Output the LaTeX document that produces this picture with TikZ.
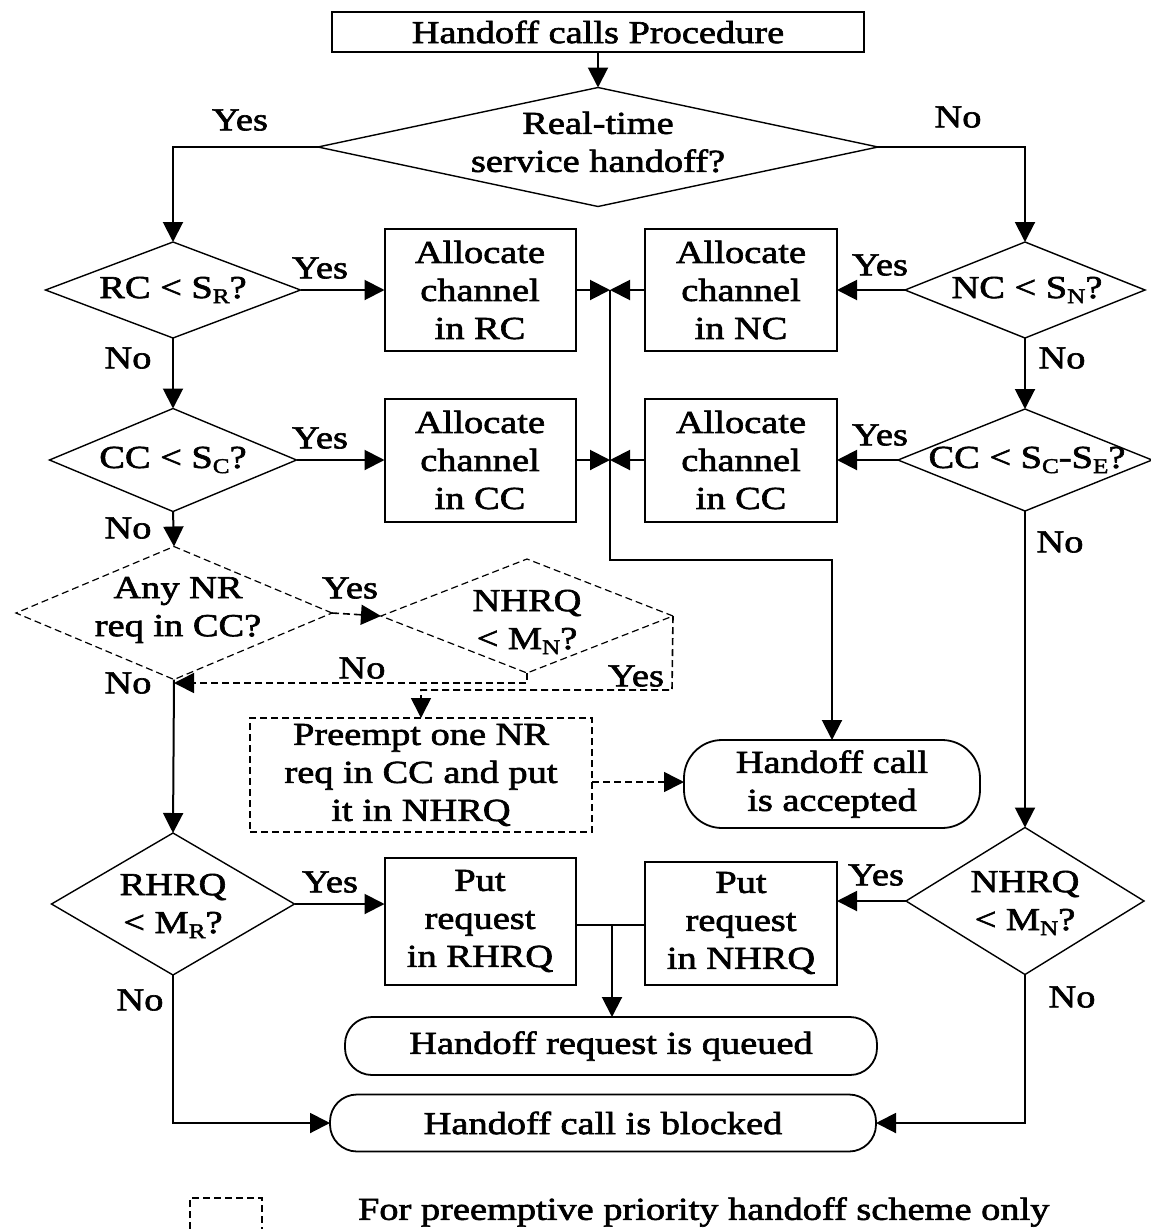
\documentclass[tikz,border=0pt]{standalone}
\usepackage{fontspec}
\setmainfont{Liberation Serif}[FakeStretch=1.2,FakeBold=2]
\usetikzlibrary{shapes.geometric,arrows.meta,calc}
\newcommand\lsub[1]{\raisebox{-0.35ex}{\fontsize{21}{21}\selectfont #1}}

\begin{document}
\begin{tikzpicture}[x=1pt,y=-1pt,
  font=\fontsize{32}{38}\selectfont,
  every node/.style={inner sep=0pt, outer sep=0pt},
  proc/.style={draw, line width=2pt, align=center},
  dec/.style={draw, diamond, line width=1.4pt},
  term/.style={draw, line width=1.8pt, rounded corners=#1},
  optdash/.style={dash pattern=on 7pt off 4pt},
  txt/.style={align=center},
  tag/.style={},
  flow/.style={line width=2pt, -{Triangle[length=20pt,width=20pt]}},
  link/.style={line width=2pt}
]
\useasboundingbox (0,0) rectangle (1151,1229);

% ---- process boxes and terminals ----
\node[proc, minimum width=532pt, minimum height=40pt] (top) at (598,32) {Handoff calls Procedure};

\node[proc, minimum width=191pt, minimum height=122pt] (bRC) at (480,290) {Allocate\\channel\\in RC};
\node[proc, minimum width=192pt, minimum height=122pt] (bNC) at (741,290) {Allocate\\channel\\in NC};
\node[proc, minimum width=191pt, minimum height=123pt] (bCC1) at (480,460) {Allocate\\channel\\in CC};
\node[proc, minimum width=192pt, minimum height=123pt] (bCC2) at (741,460) {Allocate\\channel\\in CC};

\node[proc, line width=1.6pt, optdash, minimum width=342pt, minimum height=114pt] (bP) at (421,775)
  {Preempt one NR\\req in CC and put\\it in NHRQ};
\node[term=38pt, minimum width=296pt, minimum height=88pt, align=center] (tAcc) at (832,784)
  {Handoff call\\is accepted};

\node[proc, minimum width=191pt, minimum height=127pt] (bRH) at (480,921) {Put\\request\\in RHRQ};
\node[proc, minimum width=192pt, minimum height=123pt] (bNH) at (741,923) {Put\\request\\in NHRQ};

\node[term=27pt, minimum width=532pt, minimum height=58pt] (tQ) at (611,1046) {Handoff request is queued};
\node[term=27pt, minimum width=546pt, minimum height=57pt] (tB) at (603,1123) {Handoff call is blocked};

% ---- decisions ----
\node[dec, minimum width=560pt, minimum height=119pt] (d1) at (598,147) {};
\node[txt] (d1t) at (598,142) {Real-time\\service handoff?};

\node[dec, minimum width=255pt, minimum height=96pt] (dR) at (173,290) {};
\node[txt] (dRt) at (173,290) {RC < S\lsub{R}?};

\node[dec, minimum width=240pt, minimum height=96pt] (dN) at (1025,290) {};
\node[txt] (dNt) at (1027,290) {NC < S\lsub{N}?};

\node[dec, minimum width=247pt, minimum height=103pt] (dC) at (173,460) {};
\node[txt] (dCt) at (173,460) {CC < S\lsub{C}?};

\node[dec, minimum width=254pt, minimum height=102pt] (dE) at (1025,460) {};
\node[txt] (dEt) at (1027,460) {CC < S\lsub{C}-S\lsub{E}?};

\node[dec, line width=1.2pt, optdash, minimum width=316pt, minimum height=133pt] (dA) at (174,613) {};
\node[txt] (dAt) at (178,610) {Any NR\\req in CC?};

\node[dec, line width=1.2pt, optdash, minimum width=292pt, minimum height=114pt] (dQ) at (527,616) {};
\node[txt] (dQt) at (527,622) {NHRQ\\< M\lsub{N}?};

\node[dec, minimum width=243pt, minimum height=142pt] (dRH) at (173,904) {};
\node[txt] (dRHt) at (173,906) {RHRQ\\< M\lsub{R}?};

\node[dec, minimum width=238pt, minimum height=147pt] (dNH) at (1025,901) {};
\node[txt] (dNHt) at (1025,903) {NHRQ\\< M\lsub{N}?};

% ---- junction points ----
\coordinate (m1) at (610,290);
\coordinate (m2) at (610,460);
\coordinate (j1) at (610,560);
\coordinate (m3) at (174,683);
\coordinate (j2) at (612,925);
\coordinate (j3) at (672,690);

% ---- connectors ----
\draw[flow] (top) -- (d1);
\draw[flow] (d1.west) -| (dR.north);
\draw[flow] (d1.east) -| (dN.north);
\draw[flow] (dR.east) -- (bRC.west);
\draw[flow] (dN.west) -- (bNC.east);
\draw[flow] (bRC.east) -- (m1);
\draw[flow] (bNC.west) -- (m1);
\draw[flow] (dR.south) -- (dC.north);
\draw[flow] (dN.south) -- (dE.north);
\draw[flow] (dC.east) -- (bCC1.west);
\draw[flow] (dE.west) -- (bCC2.east);
\draw[flow] (bCC1.east) -- (m2);
\draw[flow] (bCC2.west) -- (m2);
\draw[link] (m1) -- (m2);
\draw[flow] (m2) -- (j1) -| (tAcc.north);
\draw[flow] (dC.south) -- (dA.north);
\draw[flow, line width=1.6pt, optdash] (dA.east) -- (dQ.west);
\draw[flow] (dA.south) -- (dRH.north);
\draw[flow, line width=1.6pt, optdash] (dQ.south) |- (m3);
\draw[flow, line width=1.6pt, optdash] (dQ.east) -- (j3) -| (bP.north);
\draw[flow, line width=1.6pt, optdash] (bP.east |- 0,782) -- (tAcc.west |- 0,782);
\draw[flow] (dE.south) -- (dNH.north);
\draw[flow] (dRH.east) -- (dRH.east -| bRH.west);
\draw[flow] (dNH.west) -- (dNH.west -| bNH.east);
\draw[link] (bRH.east |- j2) -- (bNH.west |- j2);
\draw[flow] (j2) -- (j2 |- tQ.north);
\draw[flow] (dRH.south) |- (tB.west);
\draw[flow] (dNH.south) |- (tB.east);

% ---- branch labels ----
\node[tag] (y1) at (240,120) {Yes};
\node[tag] (n1) at (958,117) {No};
\node[tag] (y2) at (320,268) {Yes};
\node[tag] (y3) at (880,265) {Yes};
\node[tag] (n2) at (128,358) {No};
\node[tag] (n3) at (1062,358) {No};
\node[tag] (y4) at (320,438) {Yes};
\node[tag] (y5) at (880,435) {Yes};
\node[tag] (n4) at (128,528) {No};
\node[tag] (n5) at (1060,542) {No};
\node[tag] (y6) at (350,588) {Yes};
\node[tag] (n6) at (362,668) {No};
\node[tag] (y7) at (636,676) {Yes};
\node[tag] (n7) at (128,683) {No};
\node[tag] (y8) at (330,882) {Yes};
\node[tag] (y9) at (876,875) {Yes};
\node[tag] (n8) at (140,1000) {No};
\node[tag] (n9) at (1072,997) {No};

% ---- legend ----
\draw[line width=1.4pt, optdash] (190,1229) -- (190,1198) -- (262,1198) -- (262,1229);
\node[anchor=west] (legend) at (358,1212) {For preemptive priority handoff scheme only};
\end{tikzpicture}
\end{document}
